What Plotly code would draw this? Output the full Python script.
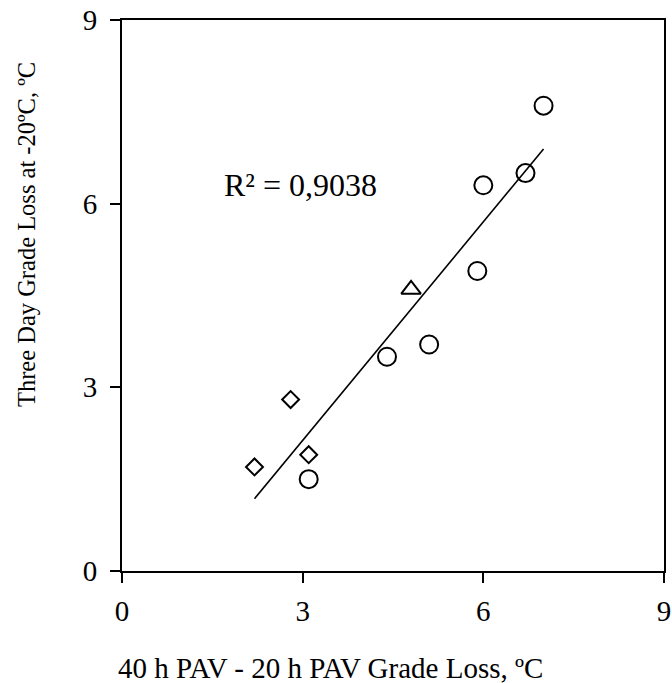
import numpy as np
import plotly.graph_objects as go

# Data
circle_x = [7.0, 6.0, 6.7, 5.9, 5.1, 4.4, 3.1]
circle_y = [7.6, 6.3, 6.5, 4.9, 3.7, 3.5, 1.5]
diamond_x = [2.2, 2.8, 3.1]
diamond_y = [1.7, 2.8, 1.9]
triangle_x = [4.8]
triangle_y = [4.6]

tick_vals = [0, 3, 6, 9]
x_title = "40 h PAV - 20 h PAV Grade Loss, ºC"
y_title = "Three Day Grade Loss at -20ºC, ºC"

all_x = np.array(circle_x + diamond_x + triangle_x)
all_y = np.array(circle_y + diamond_y + triangle_y)
slope, intercept = np.polyfit(all_x, all_y, 1)
r2 = np.corrcoef(all_x, all_y)[0, 1] ** 2
fit_x = np.array([all_x.min(), all_x.max()])
fit_y = slope * fit_x + intercept

FONT = "Liberation Serif, Times New Roman, serif"

fig = go.Figure()
fig.add_trace(go.Scatter(x=fit_x, y=fit_y, mode="lines",
                         line=dict(color="black", width=1.6), showlegend=False))
fig.add_trace(go.Scatter(x=circle_x, y=circle_y, mode="markers",
                         marker=dict(symbol="circle-open", size=18, color="black",
                                     line=dict(width=2, color="black")),
                         showlegend=False))
fig.add_trace(go.Scatter(x=diamond_x, y=diamond_y, mode="markers",
                         marker=dict(symbol="diamond-open", size=13, color="black",
                                     line=dict(width=2, color="black")),
                         showlegend=False))
fig.add_trace(go.Scatter(x=triangle_x, y=triangle_y, mode="markers",
                         marker=dict(symbol="triangle-up-open", size=17, color="black",
                                     line=dict(width=2, color="black")),
                         showlegend=False))

fig.add_annotation(x=1.66, y=6.3, xref="x", yref="y", xanchor="left", yanchor="middle",
                   text="R² = " + f"{r2:.4f}".replace(".", ","), showarrow=False,
                   font=dict(family=FONT, size=32, color="black"))
fig.add_annotation(x=0.384, y=-0.176, xref="paper", yref="paper", xanchor="center",
                   yanchor="middle", text=x_title, showarrow=False,
                   font=dict(family=FONT, size=29, color="black"))
fig.add_annotation(x=-0.175, y=0.61, xref="paper", yref="paper", xanchor="center",
                   yanchor="middle", text=y_title, showarrow=False, textangle=-90,
                   font=dict(family=FONT, size=24.5, color="black"))

axis_common = dict(showgrid=False, zeroline=False, showline=True, linecolor="black",
                   linewidth=2, mirror=True, ticks="outside", ticklen=10, tickwidth=2,
                   tickcolor="black", tickvals=tick_vals, range=[0, 9], automargin=False,
                   tickfont=dict(family=FONT, size=29, color="black"))
fig.update_xaxes(**axis_common, ticklabelstandoff=3)
fig.update_yaxes(**axis_common, ticklabelstandoff=7)

fig.update_layout(width=672, height=683, plot_bgcolor="white", paper_bgcolor="white",
                  margin=dict(l=122, r=8, t=20, b=112, autoexpand=False), showlegend=False)

fig.write_html("out.html", config={"displayModeBar": False},
               post_script="document.body.style.margin='0';document.body.style.overflow='hidden';")
